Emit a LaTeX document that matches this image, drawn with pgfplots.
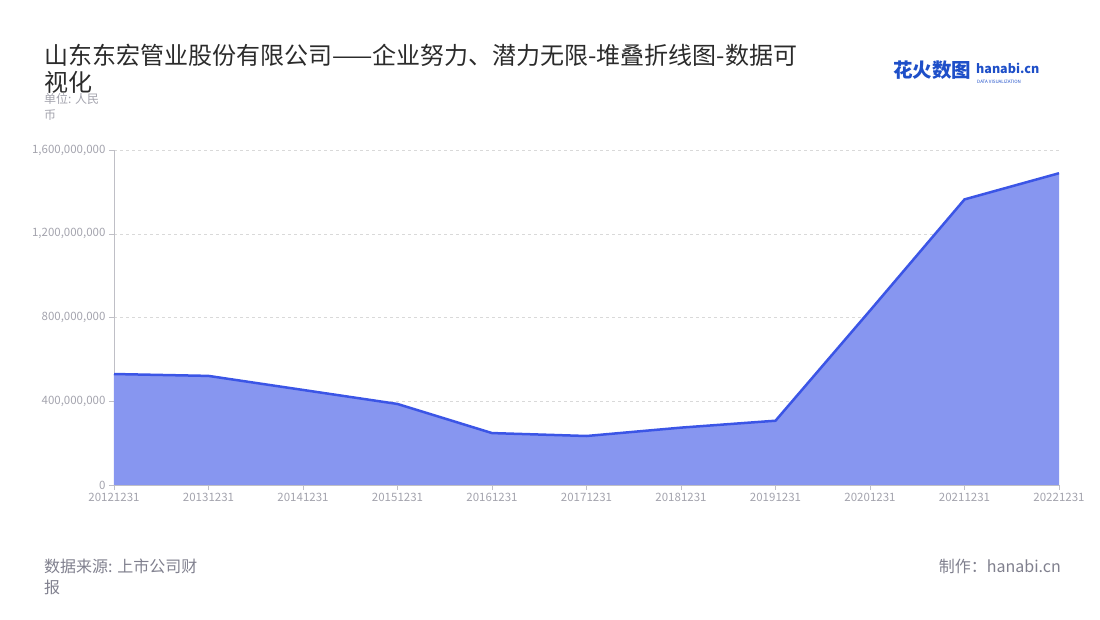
\documentclass[border=0pt]{standalone}
\usepackage{pgfplots}
\pgfplotsset{compat=1.18}
\usepackage{fontspec}
\setmainfont{Noto Sans CJK SC}
\definecolor{areafill}{HTML}{8796F0}
\definecolor{arealine}{HTML}{3B55E6}
\definecolor{ticktext}{HTML}{A3A3AD}
\definecolor{titletext}{HTML}{2B2B2B}
\definecolor{foottext}{HTML}{80808E}
\definecolor{logoblue}{HTML}{1E4FC8}
\begin{document}
\begin{tikzpicture}[x=1pt,y=1pt]
\path[use as bounding box] (0,0) rectangle (1100,620);
% title and notes
\node[anchor=base west,text=titletext,font=\fontsize{24}{27}\selectfont,inner sep=0] at (44,555) {山东东宏管业股份有限公司——企业努力、潜力无限-堆叠折线图-数据可};
\node[anchor=base west,text=titletext,font=\fontsize{24}{27}\selectfont,inner sep=0] at (44,528) {视化};
\node[anchor=base west,text=ticktext,font=\fontsize{12}{14}\selectfont,inner sep=0] at (44,516) {单位: 人民};
\node[anchor=base west,text=ticktext,font=\fontsize{12}{14}\selectfont,inner sep=0] at (44,500) {币};
% logo
\node[anchor=base west,text=logoblue,font=\fontsize{19.5}{21}\selectfont\bfseries,inner sep=0] at (893,542) {花火数图};
\node[anchor=base west,text=logoblue,font=\fontsize{12.5}{14}\selectfont\bfseries,inner sep=0] at (976,546) {hanabi.cn};
\node[anchor=base west,text=logoblue,font=\fontsize{4.5}{5}\selectfont,inner sep=0] at (977,536.5) {DATA VISUALIZATION};
% footer
\node[anchor=base west,text=foottext,font=\fontsize{16}{18}\selectfont,inner sep=0] at (44,47) {数据来源: 上市公司财};
\node[anchor=base west,text=foottext,font=\fontsize{16}{18}\selectfont,inner sep=0] at (44,26) {报};
\node[anchor=base east,text=foottext,font=\fontsize{16}{18}\selectfont,inner sep=0] at (1061,47) {制作：hanabi.cn};
\begin{axis}[
  at={(114pt,135pt)}, anchor=south west,
  scale only axis,
  width=945pt, height=335pt,
  xmin=0, xmax=10,
  ymin=0, ymax=1600000000,
  axis x line=bottom, axis y line=left,
  axis line style={draw=ticktext!70,-},
  xtick={0,...,10},
  xticklabels={20121231,20131231,20141231,20151231,20161231,20171231,20181231,20191231,20201231,20211231,20221231},
  ytick={0,400000000,800000000,1200000000,1600000000},
  scaled y ticks=false,
  /pgf/number format/.cd, fixed, 1000 sep={,}, assume math mode=true,
  /pgfplots/.cd,
  tick style={draw=ticktext!70},
  tick align=outside,
  major tick length=5pt,
  ticklabel style={text=ticktext,font=\fontsize{11.5}{12}\selectfont},
  ymajorgrids=true,
  grid style={dashed,draw=gray!30},
]
\addplot[draw=none,fill=areafill] coordinates {
  (0,530000000)(1,521000000)(2,454000000)(3,387000000)(4,248000000)(5,234000000)
  (6,274000000)(7,307000000)(8,833000000)(9,1364000000)(10,1489000000)
} \closedcycle;
\addplot[draw=arealine,line width=2.5pt] coordinates {
  (0,530000000)(1,521000000)(2,454000000)(3,387000000)(4,248000000)(5,234000000)
  (6,274000000)(7,307000000)(8,833000000)(9,1364000000)(10,1489000000)
};
\end{axis}
\end{tikzpicture}
\end{document}
